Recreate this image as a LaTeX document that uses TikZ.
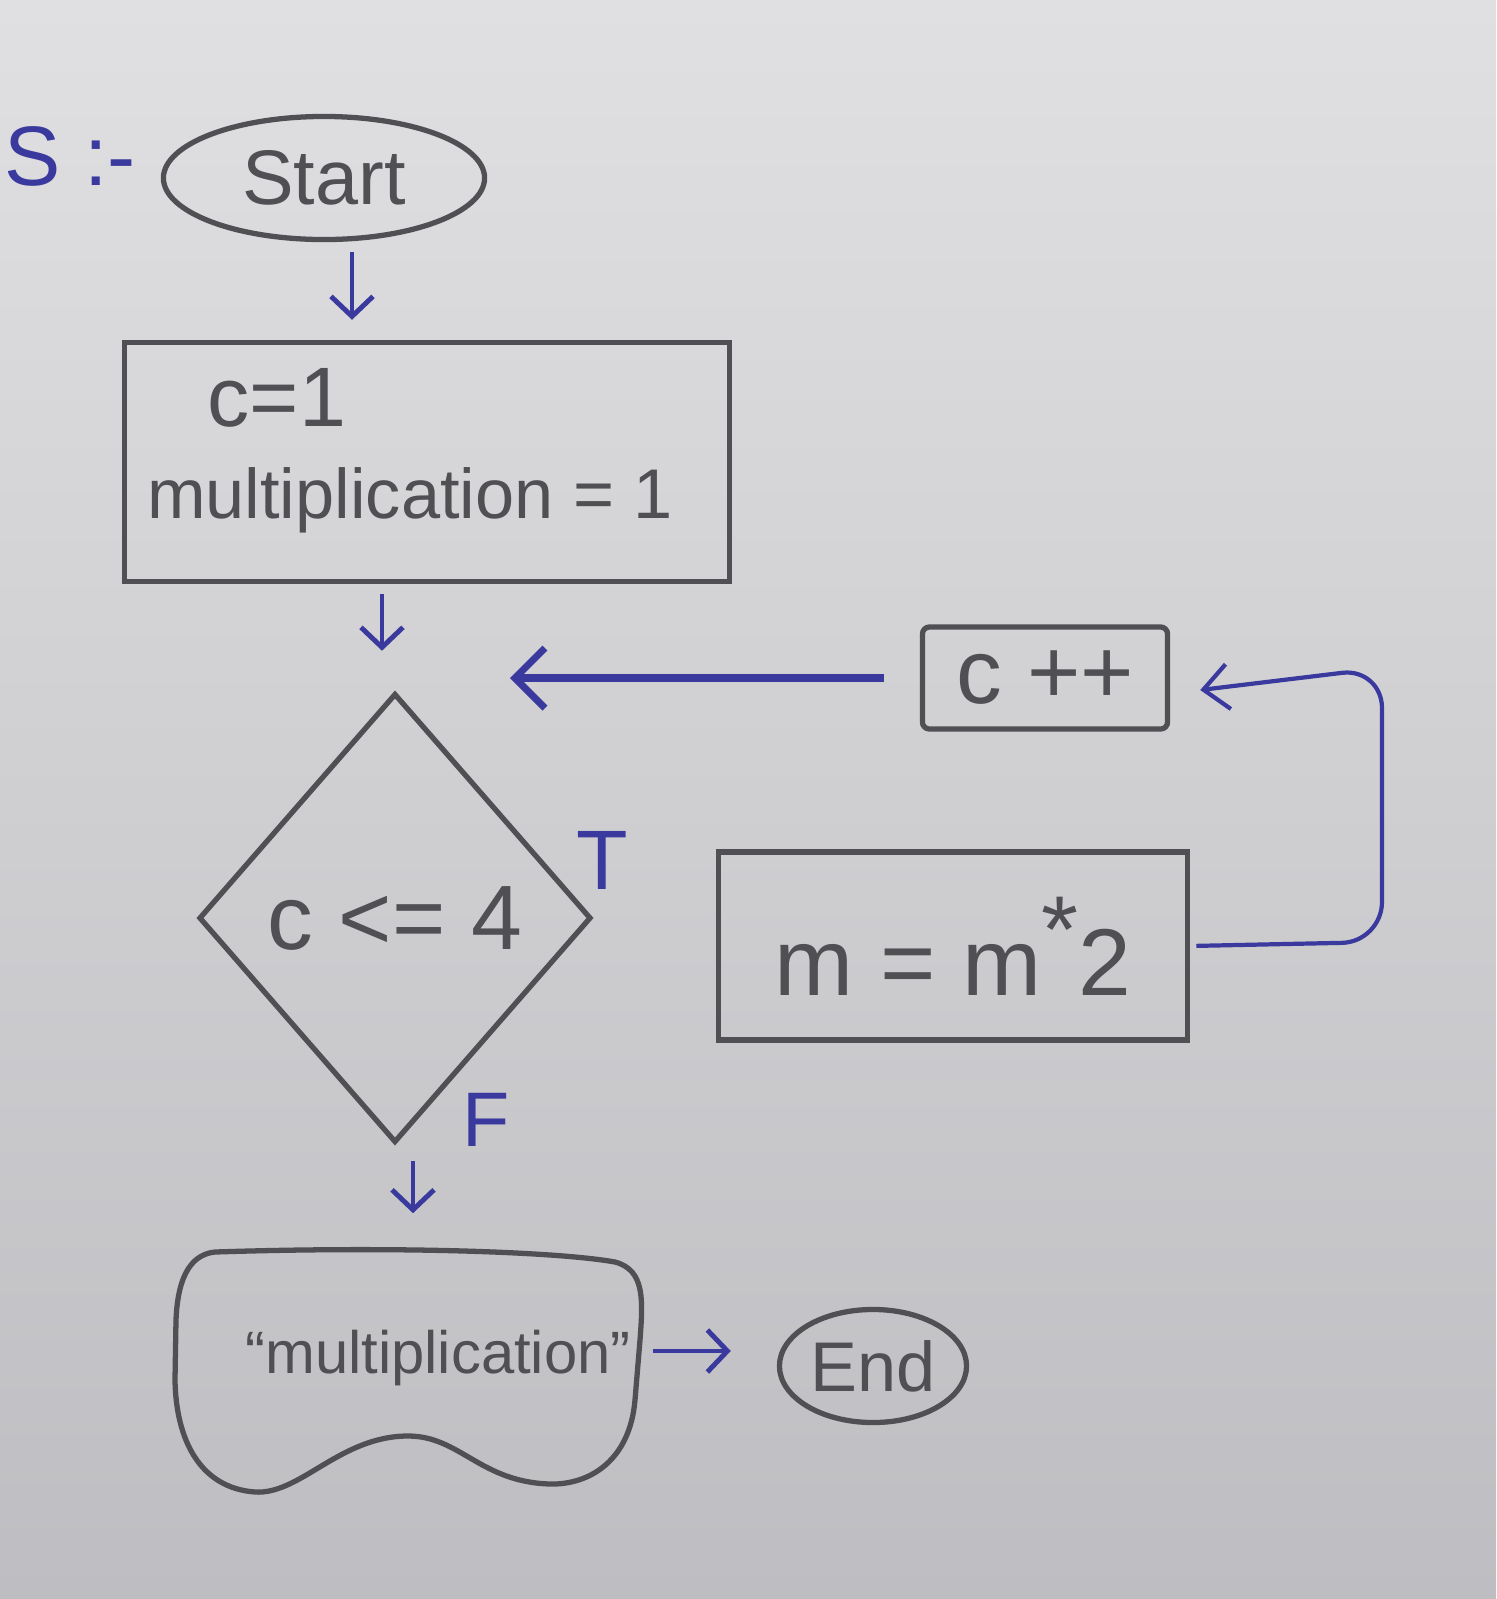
\documentclass[tikz,border=0pt]{standalone}
\usepackage{fontspec}
\setmainfont{Liberation Sans}
\usetikzlibrary{shapes.geometric,arrows.meta,calc}
\definecolor{pencil}{HTML}{505054}
\definecolor{ink}{HTML}{3A3A9E}
\definecolor{papertop}{RGB}{224,224,226}
\definecolor{paperbot}{RGB}{190,190,194}
\newcommand\myfs[1]{\fontsize{#1}{#1}\selectfont}
\begin{document}
\begin{tikzpicture}[x=0.01cm,y=-0.01cm,
  pen/.style={draw=pencil,line width=1.5pt,text=pencil,inner sep=0pt},
  txt/.style={text=pencil,inner sep=0pt},
  inktxt/.style={text=ink,inner sep=0pt},
  arr/.style={draw=ink,line width=1.4pt,-{Straight Barb[length=0.2cm,width=0.42cm]}},
]
\useasboundingbox (0,0) rectangle (1496,1599);
\shade[top color=papertop,bottom color=paperbot] (0,0) rectangle (1496,1599);

% heading
\node[inktxt,anchor=west,font=\myfs{24pt}] (head) at (4,156) {S :-};

% start
\node[pen,ellipse,minimum width=3.21cm,minimum height=1.23cm,font=\myfs{22pt}] (start) at (324,178) {Start};

% init box
\node[pen,rectangle,minimum width=6.05cm,minimum height=2.39cm] (init) at (427,462) {};
\node[txt,font=\myfs{24pt}] (c1) at (277,398) {c=1};
\node[txt,font=\myfs{20pt}] (mult) at (410,500) {multiplication = 1};

% decision
\node[pen,diamond,minimum width=3.92cm,minimum height=4.49cm,font=\myfs{26pt}] (dia) at (395,918) {c <= 4};
\node[inktxt,font=\myfs{24pt}] (tl) at (602,860) {T};
\node[inktxt,font=\myfs{22pt}] (fl) at (486,1120) {F};

% output
\node[minimum width=4.71cm,minimum height=2.40cm,inner sep=0pt] (outbox) at (406,1369) {};
\draw[pen] (215,1252) .. controls (400,1246) and (560,1252) .. (615,1262)
  .. controls (645,1270) and (643,1300) .. (640,1340) -- (635,1400)
  .. controls (630,1460) and (590,1485) .. (550,1484)
  .. controls (480,1482) and (460,1436) .. (408,1436)
  .. controls (340,1436) and (300,1495) .. (255,1492)
  .. controls (200,1488) and (176,1440) .. (175,1380) -- (176,1320)
  .. controls (178,1270) and (195,1254) .. (215,1252) -- cycle;
\node[txt,font=\myfs{17pt}] (outtxt) at (438,1358) {“multiplication”};

% end
\node[pen,ellipse,minimum width=1.87cm,minimum height=1.13cm,font=\myfs{20pt}] (endn) at (873,1366) {End};

% loop boxes
\node[pen,minimum width=2.45cm,minimum height=1.02cm,rounded corners=2pt,font=\myfs{26pt}] (cbox) at (1045,678) {c ++};
\node[pen,minimum width=4.69cm,minimum height=1.88cm,font=\myfs{27pt}] (mbox) at (953,946) {m = m\raisebox{0.35em}{*}2};

% connectors
\draw[arr,shorten <=0.1cm,shorten >=0.2cm] ([xshift=0.28cm]start.south) -- ([xshift=0.28cm]start.south |- init.north);
\draw[arr,shorten <=0.1cm,shorten >=0.4cm] ([xshift=-0.45cm]init.south) -- ([xshift=-0.45cm]init.south |- dia.north);
\draw[arr,shorten <=0.16cm,shorten >=0.35cm] ([xshift=0.18cm]dia.south) -- ([xshift=0.18cm]dia.south |- outbox.north);
\draw[arr,shorten <=0.11cm,shorten >=0.46cm] ([yshift=0.18cm]outbox.east) -- ([yshift=0.18cm]outbox.east -| endn.west);

\coordinate (back) at (510,678);
\draw[draw=ink,line width=2pt,-{Straight Barb[length=0.3cm,width=0.6cm]},shorten <=0.36cm] (cbox.west) -- (back);

\coordinate (lpb) at (1382,942);
\coordinate (lpt) at (1382,668);
\draw[draw=ink,line width=1.2pt,rounded corners=0.4cm,-{Straight Barb[length=0.25cm,width=0.45cm]},shorten <=0.06cm]
  (mbox.east) -- (lpb) -- (lpt) -- ([xshift=0.3cm,yshift=-0.12cm]cbox.east);
\end{tikzpicture}
\end{document}
